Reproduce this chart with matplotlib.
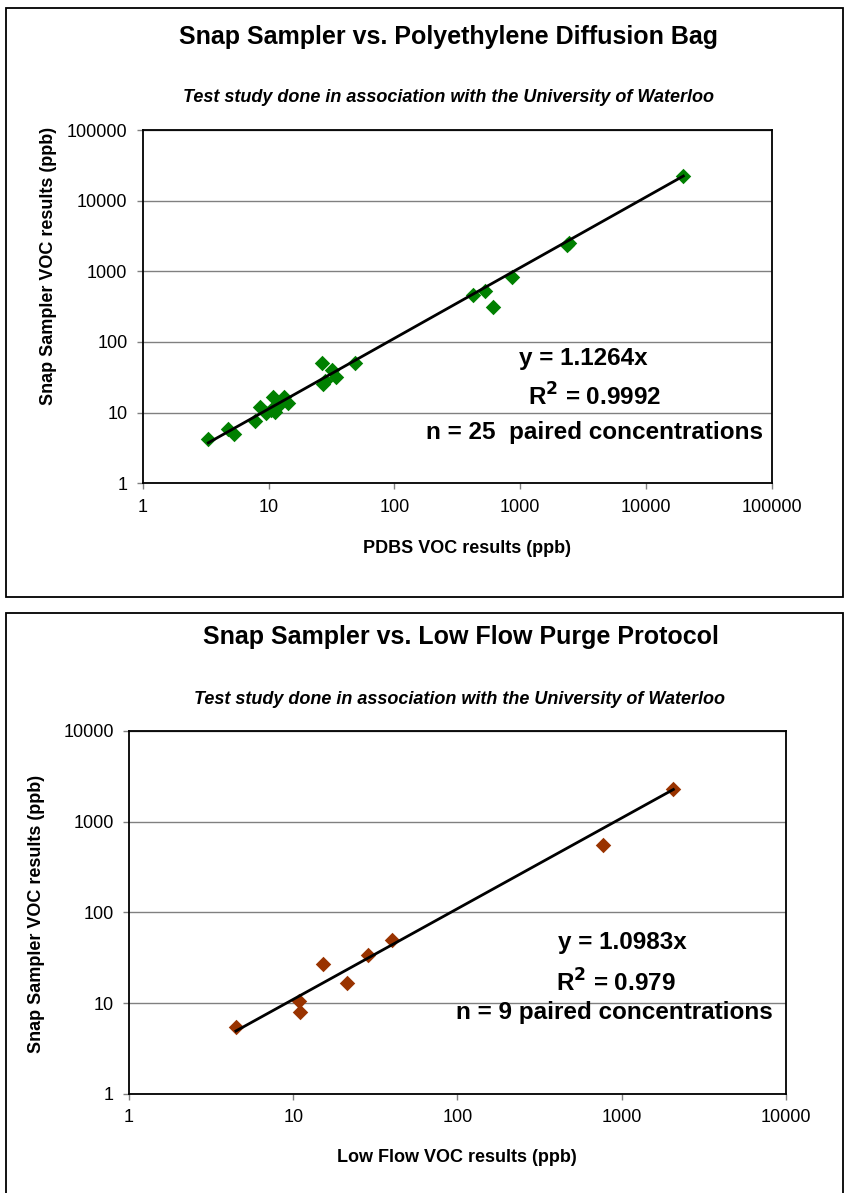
import numpy as np
import matplotlib
matplotlib.use("Agg")
import matplotlib.pyplot as plt
from matplotlib.patches import Rectangle

plt.rcParams['font.family'] = ['Liberation Sans', 'DejaVu Sans']

# chart 1: Snap Sampler vs. PDB
pdbs_x = [3.32, 4.79, 5.35, 7.81, 8.56, 9.55, 10.8, 11.3, 13.3, 14.4,
          26.5, 27.3, 31.8, 34.4, 48.7, 420, 526, 606, 858, 2372, 19830,
          10.5, 12.0, 28.0, 2450]
snap1_y = [4.2, 5.81, 4.99, 7.69, 12.1, 9.79, 16.5, 10.3, 16.5, 13.6,
           50.9, 25.4, 40.1, 32.3, 50.9, 462, 532, 310, 839, 2357, 22340,
           10.9, 12.5, 28.5, 2500]
slope1 = 1.1264

# chart 2: Snap Sampler vs. Low Flow
lowflow_x = [4.48, 10.9, 11.0, 15.2, 21.2, 28.6, 39.7, 772, 2061]
snap2_y = [5.48, 10.6, 7.9, 26.7, 16.5, 33.8, 49.5, 552, 2277]
slope2 = 1.0983

W, H = 844, 1193
fig = plt.figure(figsize=(W / 100, H / 100), dpi=100)


def px(x, y):
    return x / W, 1 - y / H


def panel(rect, xs, ys, slope, color, xmax, ymax):
    ax = fig.add_axes(rect)
    ax.set_xscale('log')
    ax.set_yscale('log')
    ax.set_xlim(1, xmax)
    ax.set_ylim(1, ymax)
    xs = np.array(xs)
    ax.scatter(xs, ys, marker='D', s=62, color=color, zorder=3, linewidths=0)
    fx = np.array([xs.min(), xs.max()])
    ax.plot(fx, slope * fx, color='black', lw=2, zorder=4)
    ax.yaxis.grid(True, which='major', color='#808080', lw=1)
    ax.minorticks_off()
    ax.set_xticks([10 ** i for i in range(int(np.log10(xmax)) + 1)])
    ax.set_yticks([10 ** i for i in range(int(np.log10(ymax)) + 1)])
    fmt = matplotlib.ticker.FuncFormatter(lambda v, p: f"{v:.0f}")
    ax.xaxis.set_major_formatter(fmt)
    ax.yaxis.set_major_formatter(fmt)
    ax.tick_params(length=4, width=1, color='#808080', labelsize=13, pad=7)
    for s in ax.spines.values():
        s.set_linewidth(1.3)
    return ax


# outer frames
fig.add_artist(Rectangle(px(6, 597), (843 - 6) / W, (597 - 8) / H, transform=fig.transFigure,
                         fill=False, lw=1.3, ec='black'))
fig.add_artist(Rectangle(px(6, 1200), (843 - 6) / W, (1200 - 613) / H, transform=fig.transFigure,
                         fill=False, lw=1.3, ec='black'))

title_kw = dict(ha='center', va='center', fontsize=18, fontweight='bold')
sub_kw = dict(ha='center', va='center', fontsize=13, fontweight='bold', style='italic')
lab_kw = dict(ha='center', va='center', fontsize=13, fontweight='bold')
eq_kw = dict(ha='center', va='center', fontsize=17.5, fontweight='bold')

# top chart
panel([0.1691, 0.5949, 0.9144 - 0.1691, 0.8910 - 0.5949], pdbs_x, snap1_y, slope1,
      '#008000', 1e5, 1e5)
fig.text(*px(448, 37), 'Snap Sampler vs. Polyethylene Diffusion Bag', **title_kw)
fig.text(*px(448, 97), 'Test study done in association with the University of Waterloo', **sub_kw)
fig.text(*px(467, 548), 'PDBS VOC results (ppb)', **lab_kw)
fig.text(*px(49, 266), 'Snap Sampler VOC results (ppb)', rotation=90, **lab_kw)
fig.text(*px(583, 359), 'y = 1.1264x', **eq_kw)
fig.text(*px(595, 397), r'R$^{\mathbf{2}}$ = 0.9992', **eq_kw)
fig.text(*px(594, 432), 'n = 25  paired concentrations', **eq_kw)

# bottom chart
panel([0.1528, 0.0832, 0.9313 - 0.1528, 0.3873 - 0.0832], lowflow_x, snap2_y, slope2,
      '#993300', 1e4, 1e4)
fig.text(*px(461, 637), 'Snap Sampler vs. Low Flow Purge Protocol', **title_kw)
fig.text(*px(460, 700), 'Test study done in association with the University of Waterloo', **sub_kw)
fig.text(*px(457, 1158), 'Low Flow VOC results (ppb)', **lab_kw)
fig.text(*px(37, 914), 'Snap Sampler VOC results (ppb)', rotation=90, **lab_kw)
fig.text(*px(622, 943), 'y = 1.0983x', **eq_kw)
fig.text(*px(616, 983), r'R$^{\mathbf{2}}$ = 0.979', **eq_kw)
fig.text(*px(614, 1013), 'n = 9 paired concentrations', **eq_kw)

fig.savefig('out.png', dpi=100)
